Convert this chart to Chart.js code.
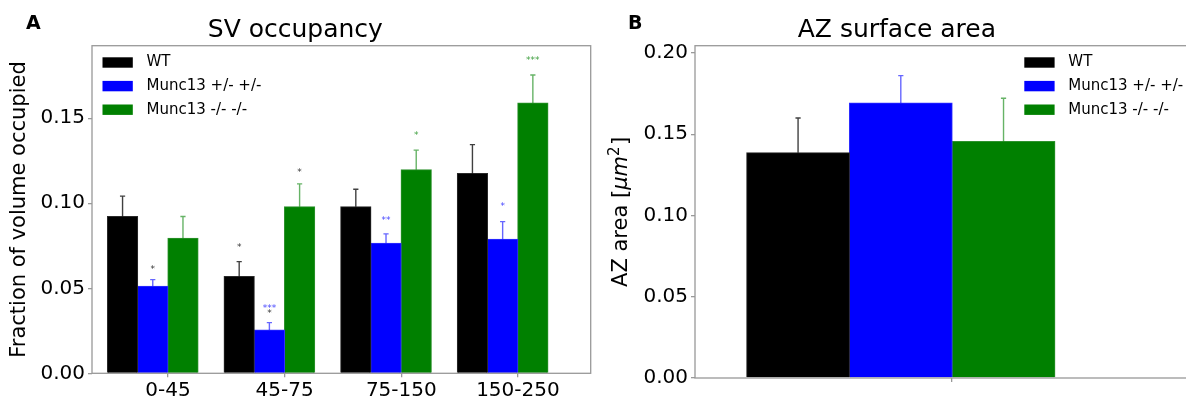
<!DOCTYPE html>
<html>
<head>
<meta charset="utf-8">
<script src="https://cdn.jsdelivr.net/npm/chart.js@4.4.0/dist/chart.umd.min.js"></script>
<style>
  html, body { margin: 0; padding: 0; background: #fff; overflow: hidden; }
  #wrap { position: relative; width: 1186px; height: 400px; overflow: hidden; }
  #chartA { position: absolute; left: 0; top: 0; }
  #chartB { position: absolute; left: 600px; top: 0; }
</style>
</head>
<body>
<div id="wrap">
  <canvas id="chartA" width="600" height="400"></canvas>
  <canvas id="chartB" width="600" height="400"></canvas>
</div>
<script>
// series shared by both panels
const seriesNames = ["WT", "Munc13 +/- +/-", "Munc13 -/- -/-"];
const seriesColors = ["#000000", "#0000ff", "#008000"];
const errorColors = ["rgba(0,0,0,0.75)", "rgba(0,0,255,0.6)", "rgba(0,128,0,0.6)"];
const edgeColors = ["#2a2a2a", "#3030ff", "#2e922e"];

// panel A - SV occupancy by distance bin (nm)
const distanceBins = ["0-45", "45-75", "75-150", "150-250"];
const occWT = [0.0922, 0.0569, 0.0980, 0.1175];
const occHet = [0.0512, 0.0255, 0.0765, 0.0788];
const occKO = [0.0794, 0.0980, 0.1198, 0.1590];
const occWTErr = [0.0120, 0.0088, 0.0103, 0.0170];
const occHetErr = [0.0039, 0.0043, 0.0055, 0.0104];
const occKOErr = [0.0128, 0.0134, 0.0115, 0.0165];
const occTicks = [0, 0.05, 0.10, 0.15];

// significance marks in panel A (bin index, series index, text, height)
const starBin = [0, 1, 1, 1, 1, 2, 2, 3, 3];
const starSeries = [1, 0, 1, 1, 2, 1, 2, 1, 2];
const starText = ["*", "*", "*", "***", "*", "**", "*", "*", "***"];
const starValue = [0.0627, 0.0756, 0.0367, 0.0400, 0.1200, 0.0918, 0.1418, 0.0996, 0.1860];
const starOwnColor = [false, false, false, true, false, true, true, true, true];

// panel B - AZ surface area
const areaWT = [0.1386];
const areaHet = [0.1692];
const areaKO = [0.1455];
const areaWTErr = [0.0214];
const areaHetErr = [0.0169];
const areaKOErr = [0.0267];
const areaTicks = [0, 0.05, 0.10, 0.15, 0.20];

const FAMILY = "'DejaVu Sans'";
const SPINE = "#999999";
Chart.defaults.font.family = FAMILY;
Chart.defaults.color = "#000";

const toPoints = (vals) => vals.map((v, i) => ({ x: i, y: v }));

const makeDatasets = (means, errs) =>
  means.map((m, i) => ({
    label: seriesNames[i],
    data: toPoints(m),
    errors: errs[i],
    backgroundColor: seriesColors[i],
    borderColor: edgeColors[i],
    borderWidth: 1,
    inflateAmount: 0.5,
    errorColor: errorColors[i],
    categoryPercentage: 1,
    barPercentage: 1,
  }));

// upward error bars with small caps
const errorBars = {
  id: "errorBars",
  afterDatasetsDraw(chart) {
    const ctx = chart.ctx;
    const y = chart.scales.y;
    ctx.save();
    ctx.lineWidth = 1.4;
    chart.data.datasets.forEach((ds, i) => {
      chart.getDatasetMeta(i).data.forEach((bar, j) => {
        const top = y.getPixelForValue(ds.data[j].y + ds.errors[j]);
        ctx.strokeStyle = ds.errorColor;
        ctx.beginPath();
        ctx.moveTo(bar.x, bar.y);
        ctx.lineTo(bar.x, top);
        ctx.moveTo(bar.x - 2.6, top);
        ctx.lineTo(bar.x + 2.6, top);
        ctx.stroke();
      });
    });
    ctx.restore();
  },
};

const drawLegend = (ctx, x0, y0) => {
  ctx.save();
  ctx.font = "15px " + FAMILY;
  ctx.textBaseline = "middle";
  seriesNames.forEach((name, i) => {
    const cy = y0 + i * 23.6;
    ctx.fillStyle = seriesColors[i];
    ctx.fillRect(x0, cy - 5.2, 30.3, 10.4);
    ctx.fillStyle = "#000";
    ctx.fillText(name, x0 + 44, cy);
  });
  ctx.restore();
};

const legendWidth = (ctx) => {
  ctx.save();
  ctx.font = "15px " + FAMILY;
  const w = Math.max(...seriesNames.map((n) => ctx.measureText(n).width));
  ctx.restore();
  return 44 + w;
};

// frame, panel letter and legend
const decor = {
  id: "decor",
  afterDraw(chart, args, opts) {
    const ctx = chart.ctx;
    const a = chart.chartArea;
    ctx.save();
    ctx.strokeStyle = SPINE;
    ctx.lineWidth = 1.3;
    ctx.strokeRect(a.left, a.top, a.right - a.left, a.bottom - a.top);
    ctx.fillStyle = "#000";
    ctx.font = "bold 19px " + FAMILY;
    ctx.textBaseline = "alphabetic";
    ctx.fillText(opts.letter, opts.letterX, 28.5);
    ctx.restore();
    if (opts.legend === "left") {
      drawLegend(ctx, a.left + 10.5, a.top + 16.8);
    } else {
      drawLegend(ctx, a.right - 10.5 - legendWidth(ctx), a.top + 16.8);
    }
  },
};

const starMarks = {
  id: "starMarks",
  afterDatasetsDraw(chart) {
    const ctx = chart.ctx;
    const y = chart.scales.y;
    ctx.save();
    ctx.font = "9px " + FAMILY;
    ctx.textAlign = "center";
    ctx.textBaseline = "alphabetic";
    starText.forEach((t, k) => {
      const bar = chart.getDatasetMeta(starSeries[k]).data[starBin[k]];
      ctx.fillStyle = starOwnColor[k] ? seriesColors[starSeries[k]] : "#222";
      ctx.globalAlpha = starOwnColor[k] ? 0.75 : 0.9;
      ctx.fillText(t, bar.x, y.getPixelForValue(starValue[k]) + 5.5);
    });
    ctx.restore();
  },
};

// y title of panel B with italic unit and superscript
const areaTitle = {
  id: "areaTitle",
  afterDraw(chart) {
    const ctx = chart.ctx;
    const a = chart.chartArea;
    const parts = [
      { t: "AZ area [", f: "21px " + FAMILY, dy: 0 },
      { t: "μm", f: "oblique 21px " + FAMILY, dy: 0 },
      { t: "2", f: "15px " + FAMILY, dy: -8 },
      { t: "]", f: "21px " + FAMILY, dy: 0 },
    ];
    ctx.save();
    let total = 0;
    parts.forEach((p) => {
      ctx.font = p.f;
      p.w = ctx.measureText(p.t).width + (p.t === "2" ? 1.5 : 0);
      total += p.w;
    });
    ctx.translate(26.7, (a.top + a.bottom) / 2);
    ctx.rotate(-Math.PI / 2);
    ctx.fillStyle = "#000";
    ctx.textBaseline = "alphabetic";
    let x = -total / 2;
    parts.forEach((p) => {
      ctx.font = p.f;
      ctx.fillText(p.t, x, p.dy);
      x += p.w;
    });
    ctx.restore();
  },
};

const tickGrid = {
  drawOnChartArea: false,
  drawTicks: true,
  tickLength: 4,
  offset: false,
  color: SPINE,
  tickColor: SPINE,
  lineWidth: 1.3,
  tickWidth: 1.3,
};

const titleOpts = (text) => ({
  display: true,
  text: text,
  color: "#000",
  font: { size: 25, weight: "normal" },
  padding: { top: 15, bottom: 0.7 },
});

// ---- panel A ----
const chartA = new Chart(document.getElementById("chartA"), {
  type: "bar",
  data: {
    datasets: makeDatasets([occWT, occHet, occKO], [occWTErr, occHetErr, occKOErr]).map((d) => ({
      ...d,
      categoryPercentage: 0.777,
    })),
  },
  options: {
    responsive: false,
    animation: false,
    devicePixelRatio: 1,
    layout: { padding: { left: 0, right: 9.3, top: 0, bottom: 0 } },
    scales: {
      x: {
        type: "linear",
        min: -0.521,
        max: 3.755,
        bounds: "data",
        offset: false,
        afterBuildTicks: (s) => {
          s.ticks = distanceBins.map((b, i) => ({ value: i + 0.131 }));
        },
        afterFit: (s) => {
          s.height = 26.7;
        },
        border: { display: false },
        grid: tickGrid,
        ticks: {
          autoSkip: false,
          maxRotation: 0,
          padding: 1,
          font: { size: 20 },
          color: "#000",
          callback: (v, i) => distanceBins[i],
        },
      },
      y: {
        min: 0,
        max: 0.1927,
        afterBuildTicks: (s) => {
          s.ticks = occTicks.map((v) => ({ value: v }));
        },
        afterFit: (s) => {
          s.width = 92;
        },
        border: { display: false },
        grid: tickGrid,
        ticks: {
          padding: 3,
          font: { size: 20 },
          color: "#000",
          callback: (v) => v.toFixed(2),
        },
        title: {
          display: true,
          text: "Fraction of volume occupied",
          color: "#000",
          font: { size: 21 },
          padding: { top: 7.4, bottom: 0 },
        },
      },
    },
    plugins: {
      legend: { display: false },
      tooltip: { enabled: false },
      title: titleOpts("SV occupancy"),
      decor: { letter: "A", letterX: 26, legend: "left" },
    },
  },
  plugins: [errorBars, starMarks, decor],
});

// ---- panel B ----
const chartB = new Chart(document.getElementById("chartB"), {
  type: "bar",
  data: {
    datasets: makeDatasets([areaWT, areaHet, areaKO], [areaWTErr, areaHetErr, areaKOErr]).map((d) => ({
      ...d,
      categoryPercentage: 0.618,
    })),
  },
  options: {
    responsive: false,
    animation: false,
    devicePixelRatio: 1,
    layout: { padding: { left: 0, right: 6.3, top: 0, bottom: 0 } },
    scales: {
      x: {
        type: "linear",
        min: -0.6675,
        max: 0.95,
        bounds: "data",
        offset: false,
        afterBuildTicks: (s) => {
          s.ticks = [{ value: 0.166 }];
        },
        afterFit: (s) => {
          s.height = 22;
        },
        border: { display: false },
        grid: tickGrid,
        ticks: { autoSkip: false, maxRotation: 0, callback: () => "" },
      },
      y: {
        min: 0,
        max: 0.2045,
        afterBuildTicks: (s) => {
          s.ticks = areaTicks.map((v) => ({ value: v }));
        },
        afterFit: (s) => {
          s.width = 95;
        },
        border: { display: false },
        grid: tickGrid,
        ticks: {
          padding: 3,
          font: { size: 20 },
          color: "#000",
          callback: (v) => v.toFixed(2),
        },
      },
    },
    plugins: {
      legend: { display: false },
      tooltip: { enabled: false },
      title: titleOpts("AZ surface area"),
      decor: { letter: "B", letterX: 28, legend: "right" },
    },
  },
  plugins: [errorBars, decor, areaTitle],
});
</script>
</body>
</html>
